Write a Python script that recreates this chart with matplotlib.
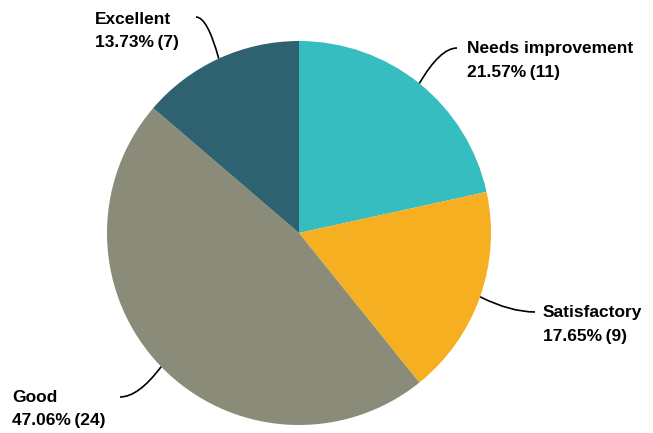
import numpy as np
import matplotlib
matplotlib.use("Agg")
import matplotlib.pyplot as plt
from matplotlib.path import Path
from matplotlib.patches import PathPatch

# data
labels = ["Needs improvement", "Satisfactory", "Good", "Excellent"]
counts = [11, 9, 24, 7]
colors = ["#35BDC0", "#F6AF20", "#8A8B79", "#2F6270"]

# label placement (pixels, y from top): text x, first line y, elbow point
label_pos = {
    "Needs improvement": (467, 48, (457, 48), "left"),
    "Satisfactory": (543, 312, (535, 312), "left"),
    "Good": (12, 397, (120, 397), "left"),
    "Excellent": (95, 19, (196, 17), "left"),
}

plt.rcParams['font.family'] = ['Liberation Sans', 'DejaVu Sans']

W, H = 653, 433
fig = plt.figure(figsize=(W / 100, H / 100), dpi=100)
ax = fig.add_axes([0, 0, 1, 1])

cx, cy, r = 299, H - 233, 192
wedges, _ = ax.pie(counts, colors=colors, startangle=90, counterclock=False,
                   center=(cx, cy), radius=r, frame=True)
ax.set_xlim(0, W)
ax.set_ylim(0, H)
ax.set_aspect("equal")
ax.axis("off")

total = sum(counts)
for w, lab, c in zip(wedges, labels, counts):
    ang = np.deg2rad((w.theta1 + w.theta2) / 2)
    ex, ey = cx + r * np.cos(ang), cy + r * np.sin(ang)
    tx, ty, (elx, ely), ha = label_pos[lab]
    ely = H - ely
    # leader: from pie edge, curving into the elbow near the text
    mx, my = (ex + elx) / 2, (ey + ely) / 2
    ctrl = (mx + (elx - mx) * 0.1, ely) if abs(elx - ex) > abs(ely - ey) else (mx, ely)
    path = Path([(ex, ey), ctrl, (elx, ely)], [Path.MOVETO, Path.CURVE3, Path.CURVE3])
    ax.add_patch(PathPatch(path, fc="none", ec="black", lw=1.2))
    pct = 100 * c / total
    ax.text(tx, H - ty, lab, ha=ha, va="center", fontsize=12.5, fontweight="bold")
    ax.text(tx, H - ty - 24, f"{pct:.2f}%\u2009({c})", ha=ha, va="center",
            fontsize=12.5, fontweight="bold")

fig.savefig("out.png", dpi=100)
